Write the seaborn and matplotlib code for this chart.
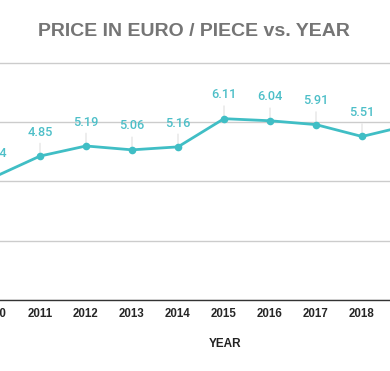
import pandas as pd
import seaborn as sns
import matplotlib.pyplot as plt

years = [2010, 2011, 2012, 2013, 2014, 2015, 2016, 2017, 2018, 2019]
prices = [4.14, 4.85, 5.19, 5.06, 5.16, 6.11, 6.04, 5.91, 5.51, 5.88]

df = pd.DataFrame({'year': years, 'price': prices})

sns.set_style('white')
plt.rcParams['font.family'] = ['Liberation Sans', 'DejaVu Sans']

teal = '#40bec5'

fig = plt.figure(figsize=(3.9, 3.71), dpi=100)
# axes is wider than the figure, the original chart is cropped on both sides
ax = fig.add_axes([-29 / 390, 71 / 371, 460 / 390, 238 / 371])

sns.lineplot(data=df, x='year', y='price', color=teal, linewidth=2,
             marker='o', markersize=5.5, markeredgewidth=0, ax=ax, zorder=3)

for x, y in zip(years, prices):
    ax.annotate(f'{y:.2f}', xy=(x, y), xytext=(0, 12.5), textcoords='offset points',
                ha='center', va='bottom', color='#4dbfc8', fontsize=9.2,
                family='Roboto', fontweight='medium', zorder=2,
                arrowprops=dict(arrowstyle='-', color='#e6e6e6', lw=1,
                                shrinkA=1, shrinkB=0))

ax.set_xlim(2009.5, 2019.5)
ax.set_ylim(0, 8.02)
ax.set_yticks([0, 2, 4, 6, 8])
ax.set_xticks(years)
ax.set_xticklabels([str(y) for y in years], fontweight='bold', fontsize=8.3)
ax.set_yticklabels([])
ax.tick_params(axis='both', length=0)
ax.tick_params(axis='x', pad=6)
ax.grid(axis='y', color='#cccccc', linewidth=1)
ax.set_axisbelow(True)
for s in ['top', 'left', 'right']:
    ax.spines[s].set_visible(False)
ax.spines['bottom'].set_color('#333333')
ax.spines['bottom'].set_linewidth(1)
ax.set_xlabel('')
ax.set_ylabel('')

fig.text(225 / 390, 1 - 344 / 371, 'YEAR', ha='center', va='center',
         fontweight='bold', fontsize=8.5, color='#222222')
fig.text(0.496, 1 - 32 / 371, 'PRICE IN EURO / PIECE vs. YEAR', ha='center',
         va='center', fontweight='bold', fontsize=14, color='#757575')

fig.savefig('out.png', dpi=100)
